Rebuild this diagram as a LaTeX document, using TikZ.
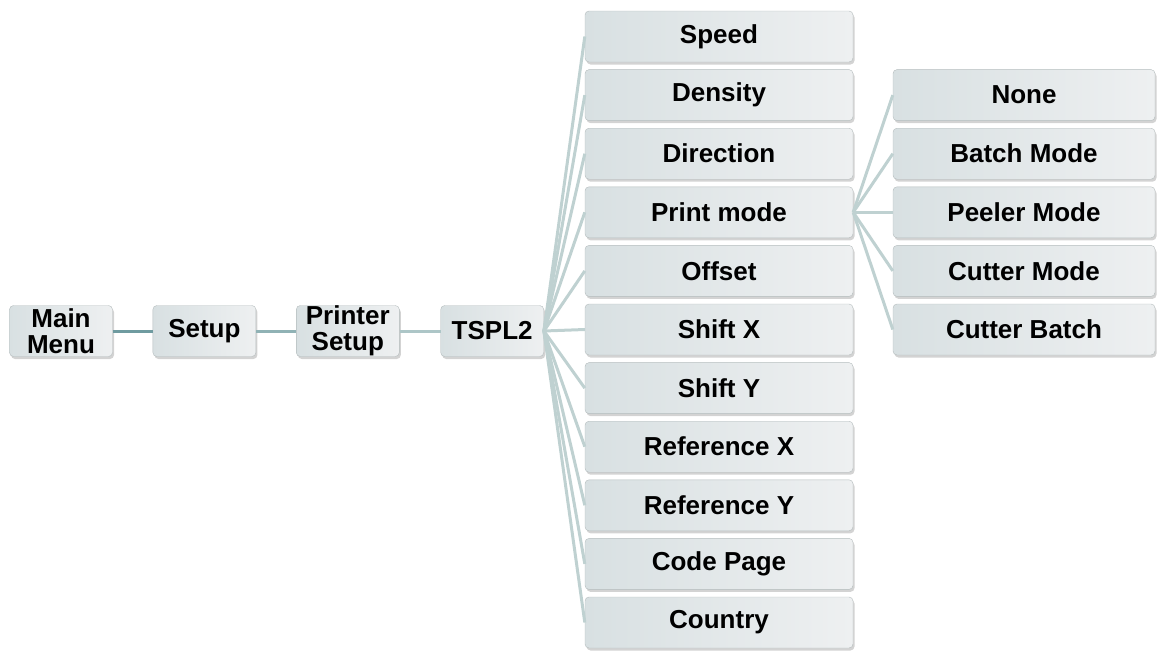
\documentclass[tikz,border=0pt]{standalone}
\usepackage{fontspec}
\setmainfont{Liberation Sans}
\usepackage{tikz}
\usetikzlibrary{positioning, shadows}
\definecolor{boxleft}{HTML}{D8E0E2}
\definecolor{boxright}{HTML}{EEF0F1}
\definecolor{boxline}{HTML}{B4BCBD}
\definecolor{linkdark}{HTML}{6F9BA0}
\definecolor{linkmid}{HTML}{90B2B5}
\definecolor{linklight}{HTML}{ADC6C7}
\definecolor{fanline}{HTML}{BFD1D1}

\begin{document}
\begin{tikzpicture}[
      x=1pt, y=-1pt,
      font=\fontsize{26}{26}\selectfont\bfseries,
      menu/.style={draw=boxline, rounded corners=4pt, left color=boxleft, right color=boxright,
        drop shadow={opacity=0.35, shadow xshift=1.5pt, shadow yshift=-2.5pt},
        minimum width=103pt, minimum height=51pt, align=center, inner sep=0pt},
      item/.style={menu, minimum width=268pt},
      sub/.style={menu, minimum width=262pt},
      link/.style={line width=3pt},
      fan/.style={line width=3pt, fanline}
    ]
    \useasboundingbox (0,0) rectangle (1163,651);

    \node[menu] (main) at (61,331) {Main\\Menu};
    \node[menu, right=40pt of main] (setup) {Setup};
    \node[menu, right=40pt of setup] (prn) {Printer\\Setup};
    \node[menu, right=41pt of prn] (tspl) {TSPL2};

    \foreach \t [count=\i from 0] in {Speed,Density,Direction,Print mode,Offset,Shift X,Shift Y,Reference X,Reference Y,Code Page,Country}
      {\node[item] (it\i) at (719,36.5+58.6*\i) {\t};}

    \foreach \t [count=\i from 1] in {None,Batch Mode,Peeler Mode,Cutter Mode,Cutter Batch}
      {\node[sub] (sb\i) at (1024,36.5+58.6*\i) {\t};}

    \draw[link, linkdark] (main) -- (setup);
    \draw[link, linkmid] (setup) -- (prn);
    \draw[link, linklight] (prn) -- (tspl);
    \foreach \i in {0,...,10} {\draw[fan] (tspl.east) -- (it\i.west);}
    \foreach \i in {1,...,5} {\draw[fan] (it3.east) -- (sb\i.west);}
  \end{tikzpicture}
\end{document}
